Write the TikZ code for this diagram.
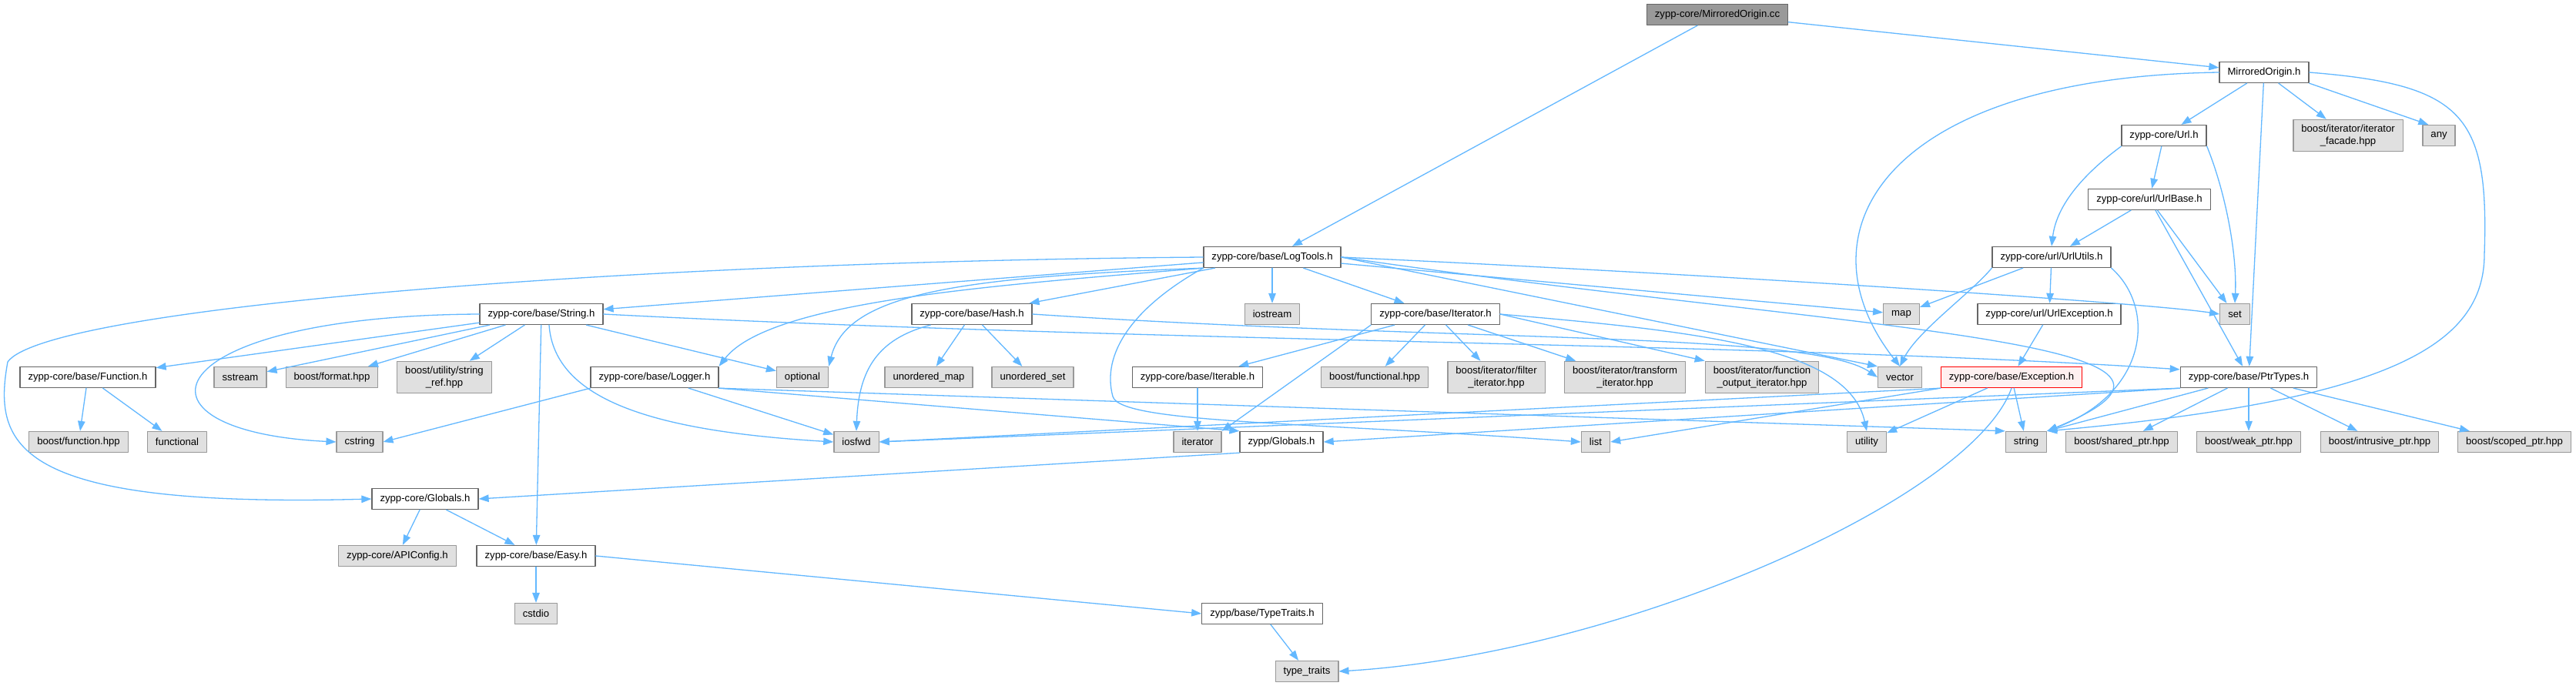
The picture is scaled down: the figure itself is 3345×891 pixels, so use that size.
\documentclass[tikz,border=0pt]{standalone}
\usepackage{fontspec}
\setmainfont{Liberation Sans}
\usepackage{tikz}
\usetikzlibrary{arrows.meta}
\definecolor{depblue}{HTML}{63B8FF}
\definecolor{hdrgray}{HTML}{666666}
\definecolor{sysgray}{HTML}{999999}
\definecolor{sysfill}{HTML}{E0E0E0}
\definecolor{cutfill}{HTML}{FFF0F0}
\begin{document}
\begin{tikzpicture}[line cap=round,line join=round,>={Triangle[length=13pt,width=9.5pt]},x=1pt,y=-1pt,
    hdr/.style={draw=hdrgray,fill=white,line width=1.3pt,inner xsep=10.5pt,inner ysep=6.5pt,
      minimum height=27pt,align=center,font=\fontsize{13.15}{16}\selectfont},
    syshdr/.style={hdr,draw=sysgray,fill=sysfill},
    roothdr/.style={hdr,draw=hdrgray,fill=sysgray},
    cuthdr/.style={hdr,draw=red,fill=cutfill},
    dep/.style={->,draw=depblue,line width=1.3pt}]
      \path[use as bounding box,fill=white] (0,0) rectangle (3345,891);
      % top rows
      \node[roothdr] (mocc) at (2230,19) {zypp-core/MirroredOrigin.cc};
      \node[hdr] (moh) at (2940,94) {MirroredOrigin.h};
      \node[hdr] (url) at (2810,176) {zypp-core/Url.h};
      \node[syshdr] (facade) at (3049,176) {boost/iterator/iterator\\\_facade.hpp};
      \node[syshdr] (any) at (3167,176) {any};
      \node[hdr] (urlbase) at (2791,259) {zypp-core/url/UrlBase.h};
      \node[hdr] (logtools) at (1652,334) {zypp-core/base/LogTools.h};
      \node[hdr] (urlutils) at (2664,334) {zypp-core/url/UrlUtils.h};
      % row 5
      \node[hdr] (stringh) at (703,408) {zypp-core/base/String.h};
      \node[hdr] (hash) at (1262,408) {zypp-core/base/Hash.h};
      \node[syshdr] (iostream) at (1652,408) {iostream};
      \node[hdr] (iteratorh) at (1864,408) {zypp-core/base/Iterator.h};
      \node[syshdr] (map) at (2469,408) {map};
      \node[hdr] (urlexc) at (2661,408) {zypp-core/url/UrlException.h};
      \node[syshdr] (set) at (2902,408) {set};
      % row 6
      \node[hdr] (functionh) at (114,490) {zypp-core/base/Function.h};
      \node[syshdr] (sstream) at (312,490) {sstream};
      \node[syshdr] (bformat) at (431,490) {boost/format.hpp};
      \node[syshdr] (stringref) at (577,490) {boost/utility/string\\\_ref.hpp};
      \node[hdr] (logger) at (850,490) {zypp-core/base/Logger.h};
      \node[syshdr] (optional) at (1042,490) {optional};
      \node[syshdr] (umap) at (1206,490) {unordered\_map};
      \node[syshdr] (uset) at (1341,490) {unordered\_set};
      \node[hdr] (iterable) at (1555,490) {zypp-core/base/Iterable.h};
      \node[syshdr] (bfunctional) at (1785,490) {boost/functional.hpp};
      \node[syshdr] (filter) at (1943,490) {boost/iterator/filter\\\_iterator.hpp};
      \node[syshdr] (transform) at (2110,490) {boost/iterator/transform\\\_iterator.hpp};
      \node[syshdr] (funcout) at (2288,490) {boost/iterator/function\\\_output\_iterator.hpp};
      \node[syshdr] (vector) at (2467,490) {vector};
      \node[cuthdr] (exception) at (2612,490) {zypp-core/base/Exception.h};
      \node[hdr] (ptrtypes) at (2920,490) {zypp-core/base/PtrTypes.h};
      % row 7
      \node[syshdr] (bfunction) at (102,574) {boost/function.hpp};
      \node[syshdr] (functional) at (230,574) {functional};
      \node[syshdr] (cstring) at (467,574) {cstring};
      \node[syshdr] (iosfwd) at (1112,574) {iosfwd};
      \node[syshdr] (iterator) at (1555,574) {iterator};
      \node[hdr] (zglobals) at (1664,574) {zypp/Globals.h};
      \node[syshdr] (list) at (2072,574) {list};
      \node[syshdr] (utility) at (2424,574) {utility};
      \node[syshdr] (string) at (2631,574) {string};
      \node[syshdr] (sharedptr) at (2755,574) {boost/shared\_ptr.hpp};
      \node[syshdr] (weakptr) at (2920,574) {boost/weak\_ptr.hpp};
      \node[syshdr] (intrusiveptr) at (3090,574) {boost/intrusive\_ptr.hpp};
      \node[syshdr] (scopedptr) at (3265,574) {boost/scoped\_ptr.hpp};
      % bottom rows
      \node[hdr] (cglobals) at (552,648) {zypp-core/Globals.h};
      \node[syshdr] (apiconfig) at (516,722) {zypp-core/APIConfig.h};
      \node[hdr] (easy) at (696,722) {zypp-core/base/Easy.h};
      \node[syshdr] (cstdio) at (696,797) {cstdio};
      \node[hdr] (typetraits) at (1639,797) {zypp/base/TypeTraits.h};
      \node[syshdr] (traits) at (1697,872) {type\_traits};
      \coordinate (lbend) at (10,470);
      \coordinate (lgap) at (1445,515);
      \coordinate (rbend) at (3226,330);
      % MirroredOrigin
      \draw[dep] (mocc) -- (logtools);
      \draw[dep] (mocc) -- (moh);
      \foreach \t in {url,facade,ptrtypes}
      \draw[dep] (moh) -- (\t);
      \draw[dep] (moh.south east) -- ([xshift=8pt]any.north west);
      \draw[dep] (moh.west) .. controls (2450,100) and (2330,300) .. (vector.north);
      \draw[dep] (moh.east) .. controls (3200,110) and (3232,150) .. (rbend) .. controls (3226,450) and (3100,520) .. (string.north east);
      % Url
      \draw[dep] (url) -- (urlbase);
      \draw[dep] (url.south west) .. controls (2700,230) and (2670,270) .. (urlutils.north);
      \draw[dep] (url.south east) .. controls (2890,250) and (2905,330) .. (set.north);
      \foreach \t in {urlutils,set,ptrtypes}
      \draw[dep] (urlbase) -- (\t);
      \foreach \t in {map,urlexc}
      \draw[dep] (urlutils) -- (\t);
      \draw[dep] (urlutils.south west) .. controls (2560,380) and (2490,430) .. (vector.north);
      \draw[dep] (urlutils.south east) .. controls (2800,400) and (2790,510) .. (string.north east);
      \draw[dep] (urlexc) -- (exception);
      % Exception and PtrTypes
      \foreach \t in {string,utility}
      \draw[dep] (exception) -- (\t);
      \draw[dep] (exception.south west) -- (list.east);
      \draw[dep] (exception.south west) -- (iosfwd.east);
      \draw[dep] (exception.south) .. controls (2560,650) and (2100,850) .. (traits.east);
      \foreach \t in {sharedptr,weakptr,intrusiveptr,scopedptr}
      \draw[dep] (ptrtypes) -- (\t);
      \draw[dep] (ptrtypes) -- (string.north east);
      \draw[dep] (ptrtypes.south west) -- (iosfwd.east);
      \draw[dep] (ptrtypes.south west) -- (zglobals.east);
      % LogTools
      \foreach \t in {stringh,hash,iostream,iteratorh,map}
      \draw[dep] (logtools) -- (\t);
      \draw[dep] (logtools.east) .. controls (2300,360) and (2800,395) .. (set.west);
      \draw[dep] (logtools.east) -- (vector.north west);
      \draw[dep] (logtools.east) .. controls (2400,430) and (2950,440) .. (string.north east);
      \draw[dep] (logtools.south west) .. controls (1300,370) and (1000,390) .. (logger.north east);
      \draw[dep] (logtools.south west) .. controls (1250,360) and (1100,380) .. (optional.north east);
      \draw[dep] (logtools.south west) .. controls (1470,400) and (1430,460) .. (lgap) .. controls (1455,550) and (1700,548) .. (list.west);
      \draw[dep] (logtools.west) .. controls (800,340) and (60,400) .. (lbend) .. controls (-10,580) and (20,660) .. (cglobals.west);
      % String
      \foreach \t in {functionh,sstream,bformat,stringref,easy,optional}
      \draw[dep] (stringh) -- (\t);
      \draw[dep] (stringh.west) .. controls (200,410) and (150,560) .. (cstring.west);
      \draw[dep] ([xshift=10pt]stringh.south) .. controls (720,520) and (850,560) .. (iosfwd.west);
      \draw[dep] (stringh.east) .. controls (1500,445) and (2300,445) .. ([yshift=-4pt]ptrtypes.north west);
      % Hash, Logger
      \foreach \t in {umap,uset}
      \draw[dep] (hash) -- (\t);
      \draw[dep] ([xshift=25pt]hash.south west) .. controls (1140,440) and (1115,480) .. (iosfwd.north);
      \draw[dep] (hash.east) .. controls (1900,445) and (2350,430) .. (vector.west);
      \draw[dep] (logger.south west) -- (cstring.east);
      \draw[dep] (logger) -- (iosfwd);
      \draw[dep] (logger.south east) -- (zglobals.north west);
      \draw[dep] (logger.south east) -- (string.north west);
      % Iterator
      \foreach \t in {iterable,bfunctional,filter,transform}
      \draw[dep] (iteratorh) -- (\t);
      \draw[dep] (iteratorh.east) -- (funcout.north west);
      \draw[dep] (iteratorh.south west) -- (iterator.north east);
      \draw[dep] (iteratorh.east) .. controls (2200,430) and (2400,450) .. (utility.north);
      \draw[dep] (iterable) -- (iterator);
      % lower part
      \foreach \t in {bfunction,functional}
      \draw[dep] (functionh) -- (\t);
      \draw[dep] (zglobals.south west) -- (cglobals.east);
      \foreach \t in {apiconfig,easy}
      \draw[dep] (cglobals) -- (\t);
      \draw[dep] (easy) -- (cstdio);
      \draw[dep] (easy.east) -- (typetraits.west);
      \draw[dep] (typetraits) -- (traits);
\end{tikzpicture}
\end{document}
